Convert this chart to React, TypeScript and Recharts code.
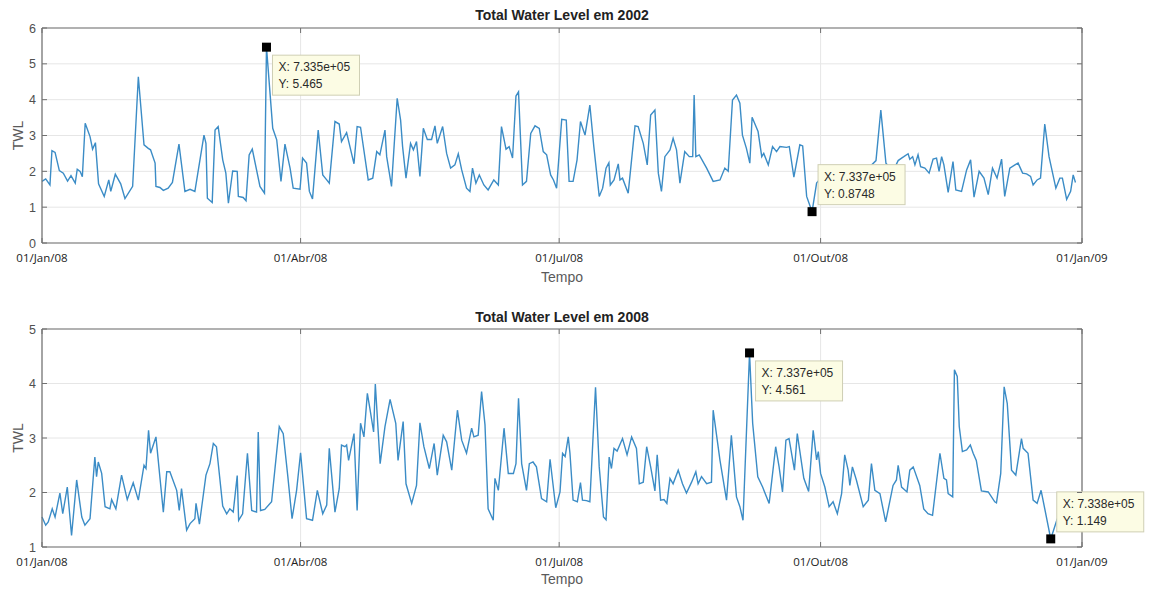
import { LineChart, Line, XAxis, YAxis, CartesianGrid, ReferenceLine, ReferenceDot, Label } from 'recharts';

// x axis: days since 01/Jan/08
const tickDays = [0, 91, 182, 274, 366];
const tickLabels = ['01/Jan/08', '01/Abr/08', '01/Jul/08', '01/Out/08', '01/Jan/09'];

const yTicks2002 = [0, 1, 2, 3, 4, 5, 6];
const yTicks2008 = [1, 2, 3, 4, 5];

const days2002 = [
  0, 1.3, 2.8, 3.5, 4.6, 6.1, 7.5, 9, 10.2, 11.7, 12.4, 13.4, 14.2, 15.2, 16.9, 17.8, 18.8, 19.9, 21.9, 23.5,
  24.2, 25.8, 27.7, 29.2, 31.9, 33.9, 35.9, 37.4, 38.2, 39.8, 40.1, 41.5, 42.7, 44.4, 45.9, 48.2, 50.3, 52.1, 53.8, 57,
  57.7, 58.2, 59.9, 60.9, 62, 63.6, 64.7, 65.6, 67.1, 68.7, 69.1, 70.8, 71.8, 72.9, 74, 76.7, 78.3, 79, 81.2, 82.6,
  84.1, 85.5, 87.3, 88.4, 90.8, 91.7, 93.1, 94.1, 95.2, 97.2, 98.8, 100.2, 101.1, 103.1, 104.6, 105.4, 107.2, 109.8, 110.9, 112.1,
  114.8, 116.4, 117.8, 118.9, 120.7, 121.3, 123, 125, 126.2, 126.9, 128.1, 129.7, 130.7, 131.8, 133, 134.2, 135.6, 137.1, 138.3, 139.1,
  141, 142.4, 143.8, 145.3, 146.5, 147.7, 149.4, 150.6, 151.5, 152.7, 153.9, 155.5, 157, 159, 160.6, 161.7, 163.3, 164.4, 165.6, 166.8,
  167.7, 169.1, 170.5, 172, 173.5, 175, 176.4, 177.6, 179, 180, 181.1, 182.9, 184.5, 185.5, 186.9, 188.3, 189.5, 191.1, 192.8, 194.2,
  196.1, 197.3, 198.5, 199.5, 200, 201.3, 202.8, 203.4, 204.3, 206.3, 208.7, 209.8, 211.6, 213, 214.2, 215.7, 216.9, 218, 219.2, 221,
  222.1, 223.3, 224.5, 226.2, 227.8, 229, 229.5, 230.1, 231.3, 233.9, 236.2, 238.6, 240.3, 241.5, 243, 244.4, 245.6, 246.5, 247.9, 249.1,
  249.9, 252, 253.3, 254, 255.6, 257.1, 258.5, 259.7, 262, 263, 264.6, 266.7, 267.7, 269.1, 271, 272.6, 274.5, 276.5, 278.5, 281,
  283.5, 286, 288.5, 291, 293.5, 295.2, 297, 299.5, 301.3, 302.5, 303.3, 304.8, 305.4, 306.4, 307.2, 308.3, 309.2, 310.7, 312.2, 313.6,
  314.8, 315.7, 316.6, 317.4, 318.9, 320.6, 321.6, 323.6, 325.4, 326.8, 328, 329.8, 331.5, 333, 334.5, 336.1, 337.7, 338.8, 340.6, 342.4,
  343.5, 345.1, 346.5, 347.9, 348.8, 350.2, 351.4, 352.9, 354.4, 356.8, 358.2, 359.1, 360.6, 362, 362.9, 363.7,
];
const twl2002 = [
  1.72, 1.79, 1.62, 2.58, 2.53, 2.02, 1.95, 1.73, 1.88, 1.67, 2.06, 2.0, 1.85, 3.34, 2.97, 2.62, 2.8, 1.65, 1.3, 1.76,
  1.44, 1.92, 1.65, 1.24, 1.58, 4.64, 2.74, 2.64, 2.6, 2.23, 1.58, 1.55, 1.47, 1.53, 1.69, 2.76, 1.44, 1.5, 1.44, 3.01,
  2.78, 1.25, 1.13, 3.15, 3.25, 2.32, 1.95, 1.11, 2.01, 2.0, 1.3, 1.27, 1.18, 2.46, 2.62, 1.58, 1.39, 5.465, 3.2, 2.88,
  1.72, 2.76, 2.09, 1.53, 1.5, 2.37, 2.23, 1.44, 1.23, 3.15, 1.9, 1.76, 1.67, 3.39, 3.32, 2.83, 3.08, 2.21, 3.25, 3.23,
  1.76, 1.81, 2.55, 2.46, 3.15, 2.41, 1.58, 4.04, 3.43, 2.69, 1.81, 2.78, 2.6, 2.83, 1.86, 3.2, 2.89, 2.89, 3.27, 2.78,
  3.25, 2.5, 2.09, 2.18, 2.49, 2.04, 1.53, 1.44, 2.09, 1.67, 1.9, 1.62, 1.48, 1.76, 1.62, 3.25, 2.62, 2.69, 2.37, 4.1,
  4.22, 1.62, 1.72, 3.06, 3.27, 3.2, 2.55, 2.46, 1.9, 1.76, 1.53, 3.45, 3.43, 1.72, 1.72, 2.32, 3.39, 3.01, 3.85, 2.69,
  1.3, 1.53, 2.09, 2.24, 1.62, 1.76, 2.21, 1.76, 1.81, 1.39, 3.27, 3.25, 2.78, 2.18, 3.57, 3.71, 1.95, 1.44, 2.41, 2.6,
  2.92, 2.6, 1.67, 2.55, 2.41, 2.41, 4.13, 2.41, 2.46, 2.09, 1.72, 1.76, 2.09, 2.0, 3.99, 4.13, 3.9, 3.01, 2.64, 2.23,
  3.51, 3.11, 2.41, 2.5, 2.18, 2.69, 2.55, 2.69, 2.67, 2.69, 1.84, 2.74, 2.71, 1.3, 0.8748, 1.67, 1.85, 2.05, 1.7, 2.1,
  1.85, 2.15, 1.65, 2.1, 2.3, 3.71, 2.23, 2.0, 2.3, 2.37, 2.41, 2.49, 2.34, 2.41, 2.18, 2.46, 2.13, 2.09, 1.95, 2.34,
  2.37, 2.0, 2.41, 2.18, 1.41, 2.27, 1.48, 1.44, 2.04, 2.32, 1.28, 2.0, 1.81, 1.35, 2.09, 1.81, 2.34, 1.3, 2.09, 2.18,
  2.23, 1.95, 1.93, 1.86, 1.62, 1.76, 1.81, 3.32, 2.41, 1.53, 1.81, 1.81, 1.22, 1.44, 1.9, 1.69,
];
const tipDays2002 = [79, 271];

const days2008 = [
  0, 1.3, 2.2, 3.6, 4.6, 6.3, 7.3, 8.9, 10.4, 12.2, 14, 15.1, 16.9, 18.6, 19.2, 19.8, 21, 22.2, 23.9, 24.5,
  26, 28, 30, 32.1, 33.9, 35.9, 36.6, 37.5, 38.2, 40.1, 42.7, 43.9, 45, 47.4, 48.3, 49.1, 50.9, 52.1, 53.8, 54.2,
  55.4, 57.7, 59.1, 60.3, 61.4, 63.6, 65, 66.1, 67.3, 68.7, 69.2, 70.6, 72.3, 73.8, 75.5, 76.1, 76.9, 78.4, 80.8, 83.5,
  84.9, 86.5, 88, 89.6, 91, 93.1, 95.2, 96.9, 98.8, 100.2, 101.1, 103.1, 104.6, 105.4, 106.6, 107.2, 107.9, 109.8, 110.9, 112.1,
  113.3, 114.5, 115.4, 116.7, 117.3, 119, 120.7, 122.5, 124.5, 125.3, 127.1, 128.1, 130.1, 131.8, 133, 134.4, 136.3, 138, 139.1, 141.2,
  142.4, 144.2, 146.2, 147.7, 149.4, 151.2, 152, 153.5, 154.7, 155.9, 157, 158.8, 159.4, 160.6, 162.6, 164.1, 165.9, 166.8, 167.7, 168.8,
  170.5, 171.5, 172.8, 174, 175.8, 177.6, 178.8, 180.8, 182.3, 183.2, 184.1, 185.2, 185.8, 186.9, 188.4, 189.5, 190.2, 191.6, 192.8, 194.8,
  196.1, 197.6, 198.5, 199.6, 200.4, 201.3, 202.4, 204.3, 205.9, 207.5, 209.2, 210.2, 211.6, 212.8, 214.2, 215.7, 216.5, 217.7, 218.9, 219.9,
  221, 222.1, 223.9, 225.4, 226.8, 228.6, 230.1, 230.9, 232.1, 233.9, 235.6, 236.2, 238.6, 240.9, 242.6, 244.4, 245.6, 246.7, 249, 250.1,
  251.9, 253.6, 255.9, 258.2, 259.4, 260.6, 261.8, 262.9, 264.8, 265.8, 268.1, 269.8, 271.4, 272.6, 273.2, 274, 275.5, 277, 278.4, 279.9,
  281.4, 282.5, 283.7, 284.3, 285.2, 286.6, 289, 290.8, 291.9, 293.1, 294.9, 296.9, 299.5, 300.7, 301.3, 302.5, 304.4, 305.4, 306.6, 308.9,
  310.3, 311.8, 313.4, 316, 317.4, 318.3, 318.9, 320.5, 321.1, 322.1, 322.8, 323.9, 325.4, 326.7, 327.7, 328.8, 330.6, 333, 335.3, 335.9,
  337.4, 338.6, 339.7, 341.2, 342.7, 344.7, 345.3, 347, 348.8, 350.2, 351.6, 355, 357.3,
];
const twl2008 = [
  1.55, 1.4, 1.46, 1.7, 1.55, 1.99, 1.61, 2.1, 1.21, 2.23, 1.55, 1.4, 1.52, 2.65, 2.29, 2.56, 2.35, 1.74, 1.7, 1.87,
  1.7, 2.32, 1.87, 2.18, 1.86, 2.5, 2.44, 3.14, 2.72, 3.02, 1.64, 2.38, 2.38, 2.04, 1.67, 2.07, 1.31, 1.43, 1.52, 1.8,
  1.42, 2.32, 2.53, 2.9, 2.84, 1.75, 1.61, 1.7, 1.64, 2.31, 1.49, 1.61, 2.72, 1.67, 1.64, 3.11, 1.67, 1.69, 1.83, 3.21,
  3.08, 2.3, 1.52, 2.04, 2.73, 1.52, 1.49, 2.04, 1.61, 1.77, 2.81, 1.64, 2.07, 2.87, 2.84, 2.87, 2.59, 3.08, 1.67, 3.27,
  3.02, 3.82, 3.54, 3.11, 3.99, 2.53, 3.21, 3.71, 3.27, 2.59, 3.3, 2.16, 1.8, 2.13, 3.28, 2.84, 2.44, 2.9, 2.32, 3.05,
  2.93, 2.41, 3.51, 2.96, 2.72, 3.18, 3.02, 3.05, 3.85, 3.24, 1.7, 1.49, 2.26, 2.04, 3.18, 2.35, 2.35, 2.53, 3.73, 2.53,
  2.04, 2.53, 2.56, 2.47, 1.89, 1.83, 2.61, 1.72, 2.01, 2.72, 2.66, 3.02, 2.72, 1.86, 1.83, 2.18, 1.86, 1.85, 1.83, 3.93,
  2.47, 1.55, 1.5, 2.65, 2.44, 2.81, 2.76, 2.99, 2.69, 3.02, 2.81, 2.16, 2.19, 2.84, 2.47, 2.03, 2.69, 1.86, 1.87, 1.8,
  2.26, 2.16, 2.41, 2.16, 1.99, 2.19, 2.38, 2.16, 2.29, 2.16, 2.19, 3.51, 2.59, 1.86, 3.05, 1.92, 1.74, 1.49, 4.561, 3.27,
  2.29, 2.1, 1.8, 2.84, 2.47, 2.01, 2.96, 2.99, 2.41, 3.08, 2.26, 2.02, 3.14, 2.6, 2.75, 2.35, 2.1, 1.74, 1.83, 1.61,
  1.98, 2.69, 2.41, 2.13, 2.47, 2.23, 1.74, 1.86, 2.53, 2.04, 1.98, 1.46, 2.13, 2.23, 2.5, 2.1, 2.01, 2.41, 2.47, 2.13,
  1.7, 1.61, 1.58, 2.72, 2.26, 2.23, 1.98, 1.92, 4.25, 4.13, 3.21, 2.75, 2.78, 2.87, 2.72, 2.59, 2.03, 2.01, 1.83, 1.81,
  2.35, 3.94, 3.63, 2.41, 2.32, 2.99, 2.81, 2.72, 1.86, 1.8, 2.04, 1.149, 1.52,
];
const tipDays2008 = [249, 355];

const DATENUM_JAN1_2008 = 733408;

const W = 1152;
const LEFT = 42;
const RIGHT = 1082;
const AXIS = '#707070';
const GRID = '#e6e6e6';
const LINE = '#3b8cc6';
const SANS = '"Liberation Sans", Arial, sans-serif';

type Tip = { day: number; side: 'below' | 'above' };

function tipText(day: number, value: number) {
  const mant = ((DATENUM_JAN1_2008 + day) / 1e5).toFixed(3);
  return [`X: ${mant}e+05`, `Y: ${value.toPrecision(4)}`];
}

function Panel(props: {
  title: string;
  top: number;
  height: number;
  plotTop: number;
  plotBottom: number;
  days: number[];
  values: number[];
  yTicks: number[];
  tips: Tip[];
  titleY: number;
  labelDy: number;
}) {
  const { title, top, height, plotTop, plotBottom, days, values, yTicks, tips, titleY, labelDy } = props;
  const data = days.map((d, i) => ({ day: d, twl: values[i] }));
  const yMin = yTicks[0];
  const yMax = yTicks[yTicks.length - 1];

  const xTick = (p: any) => {
    const i = tickDays.indexOf(p.payload.value);
    return (
      <g>
        <line x1={p.x} x2={p.x} y1={plotBottom} y2={plotBottom - 5} stroke={AXIS} />
        <line x1={p.x} x2={p.x} y1={plotTop} y2={plotTop + 5} stroke={AXIS} />
        <text x={p.x} y={plotBottom + 19} textAnchor="middle" fill="#222" fontSize={11.5} fontFamily='"Open Sans", sans-serif'>
          {tickLabels[i]}
        </text>
      </g>
    );
  };

  const yTick = (p: any) => (
    <g>
      <line x1={LEFT} x2={LEFT + 5} y1={p.y} y2={p.y} stroke={AXIS} />
      <line x1={RIGHT} x2={RIGHT - 5} y1={p.y} y2={p.y} stroke={AXIS} />
      <text x={LEFT - 6} y={p.y} dy={4.5} textAnchor="end" fill="#505050" fontSize={12.5} fontFamily={SANS}>
        {p.payload.value}
      </text>
    </g>
  );

  return (
    <div style={{ position: 'absolute', left: 0, top, width: W, height }}>
      <div
        style={{
          position: 'absolute',
          left: LEFT,
          width: RIGHT - LEFT,
          top: titleY,
          textAlign: 'center',
          fontFamily: SANS,
          fontWeight: 'bold',
          fontSize: 14,
          lineHeight: '16px',
          color: '#222',
        }}
      >
        {title}
      </div>
      <LineChart width={W} height={height} data={data} margin={{ top: plotTop, right: W - RIGHT, bottom: 0, left: 0 }}>
        <CartesianGrid stroke={GRID} />
        <XAxis
          dataKey="day"
          type="number"
          domain={[0, 366]}
          ticks={tickDays}
          interval={0}
          height={height - plotBottom}
          tickSize={0}
          tickLine={false}
          axisLine={{ stroke: AXIS, strokeWidth: 1.2 }}
          tick={xTick}
        >
          <Label
            content={({ viewBox }: any) => (
              <text
                x={viewBox.x + viewBox.width / 2}
                y={viewBox.y + labelDy}
                textAnchor="middle"
                fill="#5a5a5a"
                fontSize={14}
                fontFamily={SANS}
              >
                Tempo
              </text>
            )}
          />
        </XAxis>
        <YAxis
          type="number"
          domain={[yMin, yMax]}
          ticks={yTicks}
          interval={0}
          width={LEFT}
          tickSize={0}
          tickLine={false}
          axisLine={{ stroke: AXIS, strokeWidth: 1.2 }}
          tick={yTick}
        >
          <Label
            content={({ viewBox }: any) => {
              const cx = viewBox.x + 18;
              const cy = viewBox.y + viewBox.height / 2;
              return (
                <text
                  x={cx}
                  y={cy}
                  transform={`rotate(-90 ${cx} ${cy})`}
                  textAnchor="middle"
                  dominantBaseline="central"
                  fill="#5a5a5a"
                  fontSize={14}
                  fontFamily={SANS}
                >
                  TWL
                </text>
              );
            }}
          />
        </YAxis>
        <ReferenceLine y={yMax} stroke={AXIS} strokeWidth={1.2} />
        <ReferenceLine x={366} stroke={AXIS} strokeWidth={1.2} />
        <Line type="linear" dataKey="twl" stroke={LINE} strokeWidth={1.4} dot={false} isAnimationActive={false} />
        {tips.map((t) => {
          const value = values[days.indexOf(t.day)];
          const [lx, ly] = tipText(t.day, value);
          return (
            <ReferenceDot
              key={t.day}
              x={t.day}
              y={value}
              ifOverflow="visible"
              shape={(s: any) => {
                const bx = s.cx + 6;
                const by = t.side === 'below' ? s.cy + 8 : s.cy - 47;
                return (
                  <g>
                    <rect x={bx} y={by} width={87} height={40} fill="#fcfce4" stroke="#cfcfb4" />
                    <text x={bx + 6} y={by + 16} fill="#2a2a2a" fontSize={12} fontFamily={SANS}>
                      {lx}
                    </text>
                    <text x={bx + 6} y={by + 33} fill="#2a2a2a" fontSize={12} fontFamily={SANS}>
                      {ly}
                    </text>
                    <rect x={s.cx - 4.5} y={s.cy - 4.5} width={9} height={9} fill="#000" />
                  </g>
                );
              }}
            />
          );
        })}
      </LineChart>
    </div>
  );
}

export default function App() {
  return (
    <div style={{ position: 'absolute', left: 0, top: 0, width: W, height: 589, background: '#fff' }}>
      <Panel
        title="Total Water Level em 2002"
        top={0}
        height={295}
        plotTop={28}
        plotBottom={243}
        days={days2002}
        values={twl2002}
        yTicks={yTicks2002}
        tips={[
          { day: tipDays2002[0], side: 'below' },
          { day: tipDays2002[1], side: 'above' },
        ]}
        titleY={7}
        labelDy={39}
      />
      <Panel
        title="Total Water Level em 2008"
        top={295}
        height={294}
        plotTop={34}
        plotBottom={252}
        days={days2008}
        values={twl2008}
        yTicks={yTicks2008}
        tips={[
          { day: tipDays2008[0], side: 'below' },
          { day: tipDays2008[1], side: 'above' },
        ]}
        titleY={14}
        labelDy={37}
      />
    </div>
  );
}
